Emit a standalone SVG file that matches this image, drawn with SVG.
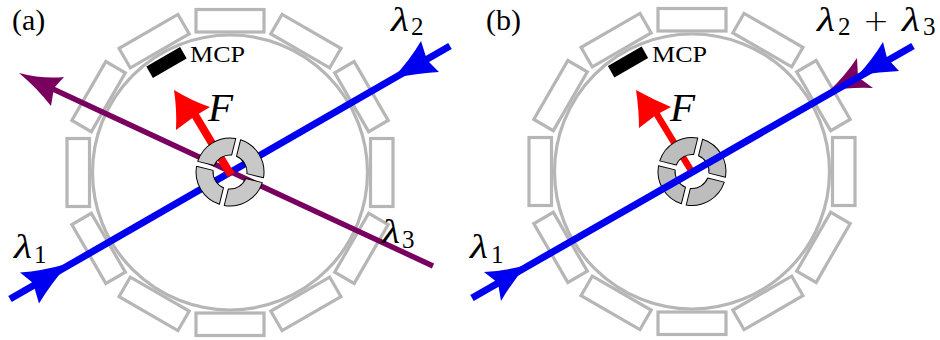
<svg xmlns="http://www.w3.org/2000/svg" width="940" height="340" viewBox="0 0 940 340">
<style>
.seg{fill:none;stroke:#b6b6b6;stroke-width:3.2}
.ring{fill:none;stroke:#b6b6b6;stroke-width:3.2}
.qs{stroke:#000;stroke-width:1;stroke-linejoin:round}
text{font-family:"Liberation Serif","Times New Roman",serif;fill:#000}
.lam{font-size:34.500px;font-style:italic}
.sub{font-size:25px}
.lab{font-size:30px}
.mcp{font-size:24px}
.f{font-size:41px;font-style:italic}
.plus{font-family:"DejaVu Sans",sans-serif;font-weight:200;font-size:31px}
.blue{stroke:#0000f0;stroke-width:7;fill:none}
.purple{stroke:#7a0060;stroke-width:5.400;fill:none}
.bh{fill:#0000f0}
.ph{fill:#7a0060}
.rh{fill:#f00}
</style>
<defs>
<g id="segs">
<g id="s"><rect class="seg" x="-34" y="-163" width="68" height="22.500"/></g>
<use href="#s" transform="rotate(30)"/><use href="#s" transform="rotate(60)"/><use href="#s" transform="rotate(90)"/>
<use href="#s" transform="rotate(120)"/><use href="#s" transform="rotate(150)"/><use href="#s" transform="rotate(180)"/>
<use href="#s" transform="rotate(210)"/><use href="#s" transform="rotate(240)"/><use href="#s" transform="rotate(270)"/>
<use href="#s" transform="rotate(300)"/><use href="#s" transform="rotate(330)"/>
<circle class="ring" r="137.500"/>
</g>
<path id="q" d="M33.900 2.500A34 34 0 0 1 2.500 33.900L2.500 16.800A17 17 0 0 0 16.800 2.500Z"/>
<g id="quad">
<use href="#q" transform="rotate(14)"/><use href="#q" transform="rotate(104)"/>
<use href="#q" transform="rotate(194)"/><use href="#q" transform="rotate(284)"/>
</g>
</defs>

<g id="chamber-a" transform="translate(230 172.500)"><use href="#segs"/></g>
<g id="chamber-b" transform="translate(692 171.500)"><use href="#segs"/></g>
<g id="mcp-a"><rect x="147" y="56" width="39" height="13" transform="rotate(-30 166.500 62.500)"/><text class="mcp" x="190" y="62" textLength="55" lengthAdjust="spacingAndGlyphs">MCP</text></g>
<g id="mcp-b"><rect x="608.500" y="55.500" width="39" height="13" transform="rotate(-30 628 62)"/><text class="mcp" x="652" y="62" textLength="55" lengthAdjust="spacingAndGlyphs">MCP</text></g>

<g id="connectors">
<g id="beams-a">
<path class="blue" d="M10 299L450 46"/>
<path class="bh" d="M68.500 263.500Q42 271 20 272.500L33 283L39 303.500Q50 285 68.500 263.500Z"/>
<path class="bh" d="M393 78Q420 73 439 72L427 60L421 41Q410 60 393 78Z"/>
<path class="purple" d="M433 266L40 83"/>
<path class="ph" d="M19 73Q42 79 64 77L54 88L51 106Q37 88 19 73Z"/>
<path stroke="#f00" stroke-width="8" d="M231 175L195 115"/>
<path class="rh" d="M174 90Q192 101 210 107L195 116L176 130Q177 110 174 90Z"/>
</g>
<g id="beams-b-under">
<path stroke="#f00" stroke-width="6.500" d="M692 172L656 113"/>
<path class="rh" d="M636 90Q654 100 671 107L656 115L639 128Q639 110 636 90Z"/>
<path class="ph" d="M829 91Q845 76 857 58L858 77L873 88Q850 87 829 91Z"/>
</g>
</g>

<g id="quad-a" fill="#c8c8c8" class="qs" transform="translate(230 172)"><use href="#quad"/></g>
<g id="quad-b" fill="#bdbdbd" class="qs" transform="translate(692 171.500)"><use href="#quad"/></g>

<g id="beam-b-over">
<path class="blue" d="M472 298L913 46"/>
<path class="bh" d="M527 265Q505 271 484 272L498 283L501 301Q512 282 527 265Z"/>
<path class="bh" d="M858 75Q880 72 899 71L887 58L883 42Q872 60 858 75Z"/>
</g>

<g id="labels-a">
<text class="lab" x="12" y="30">(a)</text>
<text class="f" x="208" y="121">F</text>
<text class="lam" x="14" y="258" textLength="18" lengthAdjust="spacingAndGlyphs">λ</text><text class="sub" x="34" y="263">1</text>
<text class="lam" x="391" y="31" textLength="18" lengthAdjust="spacingAndGlyphs">λ</text><text class="sub" x="411" y="35">2</text>
<text class="lam" x="382" y="243" textLength="18" lengthAdjust="spacingAndGlyphs">λ</text><text class="sub" x="402" y="248">3</text>
</g>
<g id="labels-b">
<text class="lab" x="486" y="30">(b)</text>
<text class="f" x="670" y="121">F</text>
<text class="lam" x="470" y="258" textLength="18" lengthAdjust="spacingAndGlyphs">λ</text><text class="sub" x="491" y="263">1</text>
<text class="lam" x="817" y="31" textLength="18" lengthAdjust="spacingAndGlyphs">λ</text><text class="sub" x="838" y="35">2</text>
<text class="plus" x="863" y="31">+</text>
<text class="lam" x="902" y="31" textLength="18" lengthAdjust="spacingAndGlyphs">λ</text><text class="sub" x="923" y="35">3</text>
</g>
</svg>
